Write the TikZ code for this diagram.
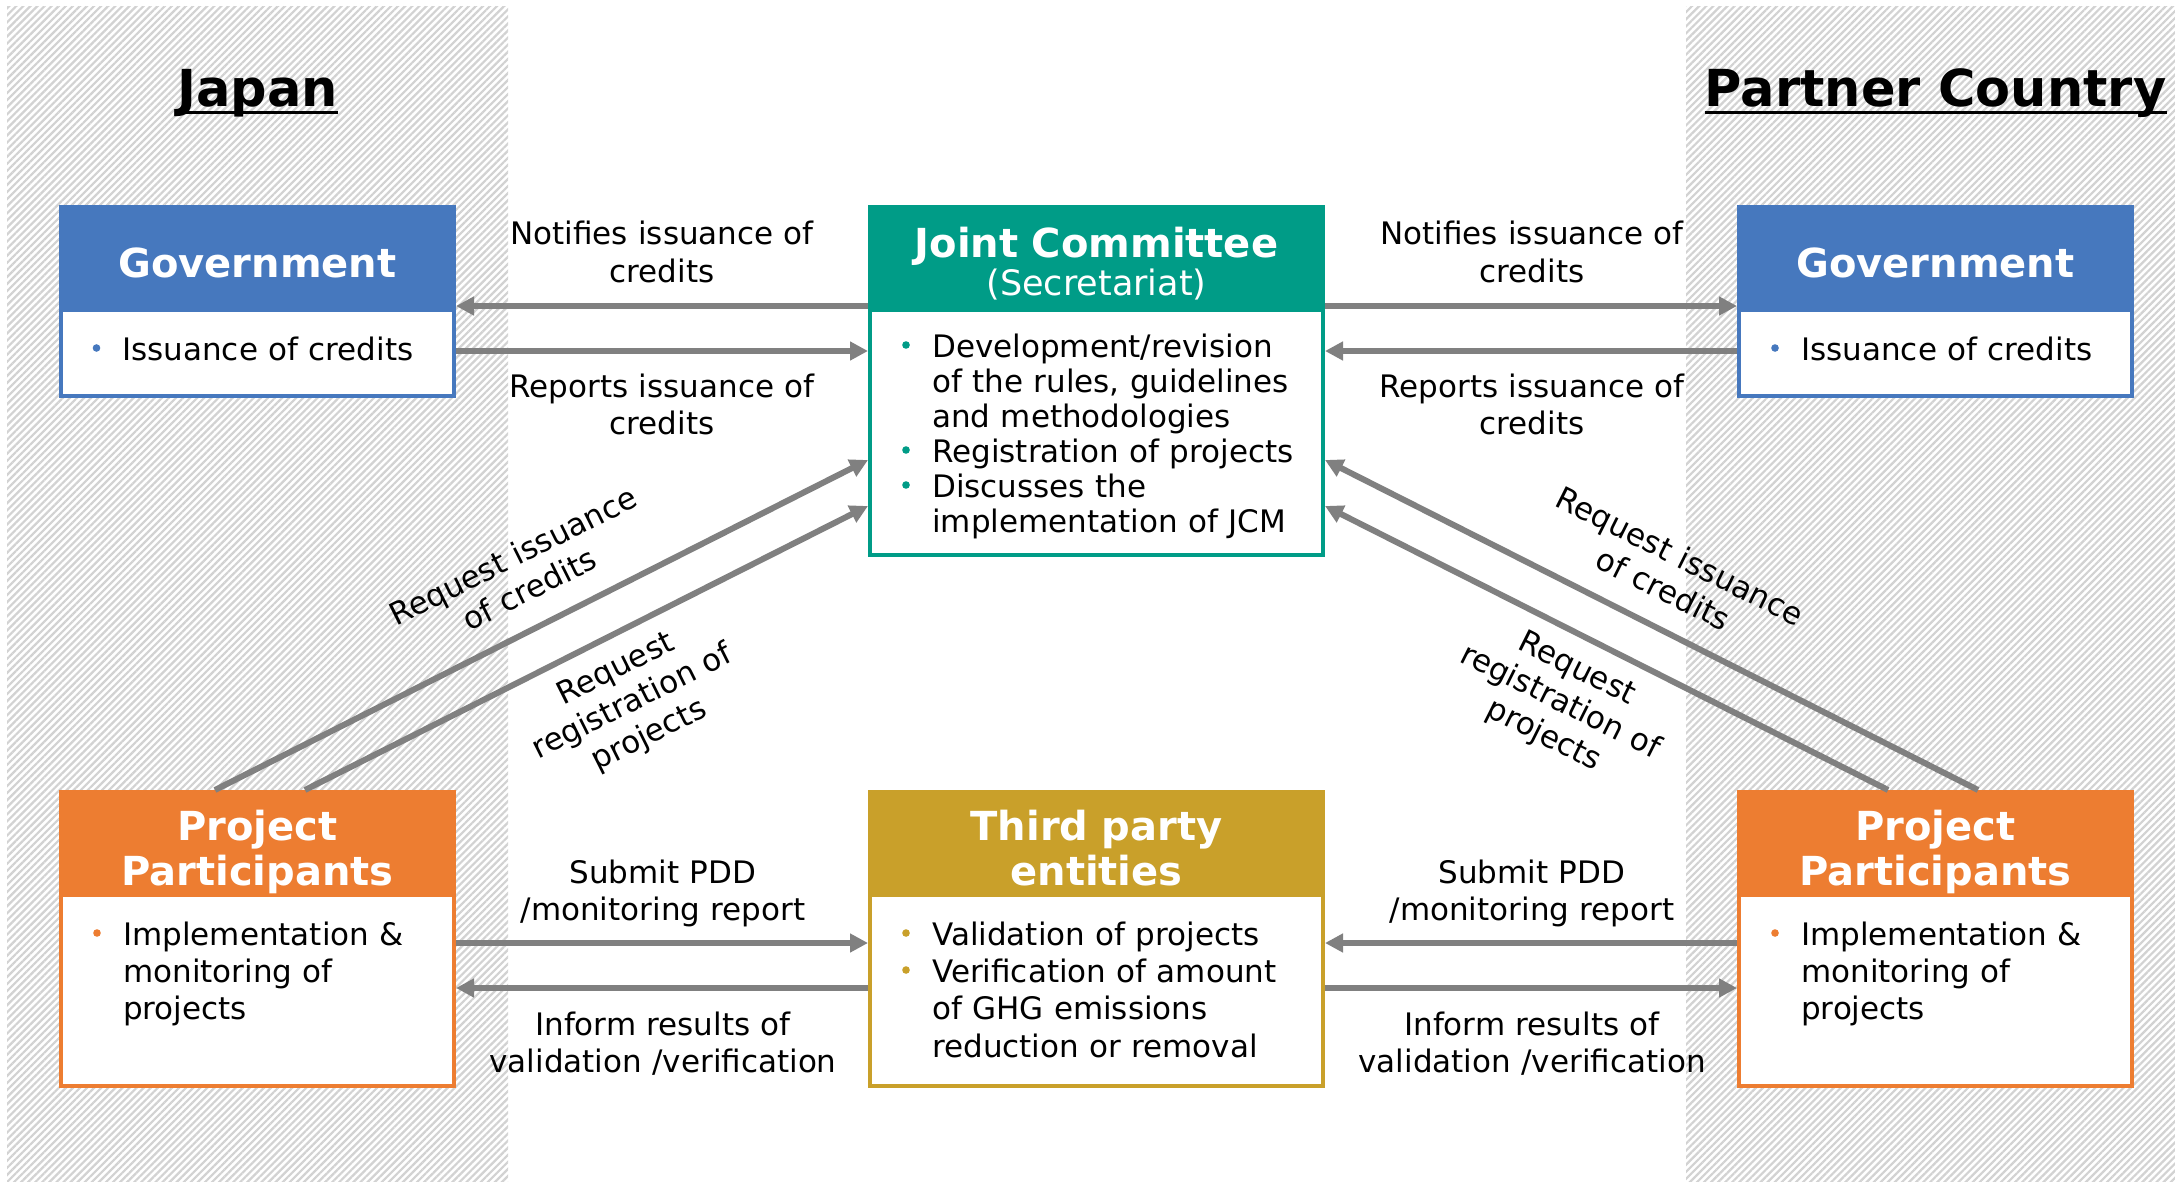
\documentclass[tikz,border=0pt]{standalone}
\usepackage{fontspec}
\setmainfont{DejaVu Sans}
\usetikzlibrary{arrows.meta,patterns.meta}
\definecolor{govblue}{RGB}{70,120,190}
\definecolor{jcteal}{RGB}{0,156,135}
\definecolor{pporange}{RGB}{237,125,49}
\definecolor{tpgold}{RGB}{201,160,42}
\definecolor{arrgray}{RGB}{128,128,128}
\definecolor{hatchgray}{RGB}{210,210,210}
\tikzset{
  hatchbg/.style={pattern={Lines[angle=45,distance=5pt,line width=2.2pt]}, pattern color=hatchgray},
  boxbody/.style={draw=#1, line width=4pt, fill=white, inner sep=0pt},
  boxhead/.style={fill=#1, draw=none, inner sep=0pt, outer sep=0pt, anchor=north, minimum height=107pt},
  headtxt/.style={text=white, font=\bfseries\fontsize{40}{45}\selectfont, inner sep=0pt, text width=380pt, align=center, anchor=base},
  headsub/.style={text=white, font=\fontsize{35}{40}\selectfont, inner sep=0pt, anchor=base},
  bodytxt/.style={font=\fontsize{31}{#1}\selectfont, inner sep=0pt, text width=320pt, align=left, anchor=base west},
  lbl/.style={font=\fontsize{31}{37}\selectfont, inner sep=0pt, text width=355pt, align=center, anchor=base},
  rlbl/.style={font=\fontsize{31}{37}\selectfont, inner sep=0pt, text width=285pt, align=center, anchor=base},
  titletxt/.style={font=\bfseries\fontsize{51}{56}\selectfont, inner sep=0pt, anchor=base},
  arr/.style={draw=arrgray, line width=6pt, -{Triangle[length=18pt,width=18pt]}},
  dot/.style={radius=3.8pt}
}
\begin{document}
\begin{tikzpicture}[x=1pt,y=-1pt]
\useasboundingbox (0,0) rectangle (2175,1182);
\fill[white] (0,0) rectangle (2175,1182);
% hatched country regions
\fill[hatchbg] (7,7) rectangle (508,1182);
\fill[hatchbg] (1686,7) rectangle (2175,1182);

% titles
\node[titletxt] (jp) at (257.5,107) {Japan};
\draw[line width=3pt] ([yshift=-6pt]jp.base west) -- ([yshift=-6pt]jp.base east);
\node[titletxt] (pc) at (1935.5,107) {Partner Country};
\draw[line width=3pt] ([yshift=-6pt]pc.base west) -- ([yshift=-6pt]pc.base east);

% boxes
\node[boxbody=govblue, minimum width=393pt, minimum height=189pt] (govL) at (257.5,301.5) {};
\node[boxhead=govblue, minimum width=397pt] (govLh) at (govL.north) {};
\node[boxbody=govblue, minimum width=393pt, minimum height=189pt] (govR) at (1935.5,301.5) {};
\node[boxhead=govblue, minimum width=397pt] (govRh) at (govR.north) {};
\node[boxbody=jcteal, minimum width=453pt, minimum height=348pt] (jc) at (1096.5,381) {};
\node[boxhead=jcteal, minimum width=457pt] (jch) at (jc.north) {};
\node[boxbody=pporange, minimum width=393pt, minimum height=294pt] (ppL) at (257.5,939) {};
\node[boxhead=pporange, minimum width=397pt] (ppLh) at (ppL.north) {};
\node[boxbody=pporange, minimum width=393pt, minimum height=294pt] (ppR) at (1935.5,939) {};
\node[boxhead=pporange, minimum width=397pt] (ppRh) at (ppR.north) {};
\node[boxbody=tpgold, minimum width=453pt, minimum height=294pt] (tp) at (1096.5,939) {};
\node[boxhead=tpgold, minimum width=457pt] (tph) at (tp.north) {};

% header texts
\node[headtxt] (govLt) at (257.5,277) {Government};
\node[headtxt] (govRt) at (1935.5,277) {Government};
\node[headtxt] (jct) at (1096.5,258) {Joint Committee};
\node[headsub] (jcs) at (1096.5,295) {(Secretariat)};
\node[headtxt] (ppLt) at (257.5,840) {Project\\Participants};
\node[headtxt] (ppRt) at (1935.5,840) {Project\\Participants};
\node[headtxt] (tpt) at (1096.5,840) {Third party\\entities};

% body texts
\fill[govblue] (96.5,348) circle[dot];
\node[bodytxt=36] (govLb) at (122,360) {Issuance of credits};
\fill[govblue] (1775,348) circle[dot];
\node[bodytxt=36] (govRb) at (1801,360) {Issuance of credits};

\fill[jcteal] (906,345) circle[dot];
\node[bodytxt=35.2, text width=385pt] (jcb1) at (932,357) {Development/revision\\of the rules, guidelines\\and methodologies};
\fill[jcteal] (906,450) circle[dot];
\node[bodytxt=35.2, text width=385pt] (jcb2) at (932,462) {Registration of projects};
\fill[jcteal] (906,485) circle[dot];
\node[bodytxt=35.2, text width=385pt] (jcb3) at (932,497) {Discusses the\\implementation of JCM};

\fill[tpgold] (906,933) circle[dot];
\node[bodytxt=37.7, text width=385pt] (tpb1) at (932,945) {Validation of projects};
\fill[tpgold] (906,970) circle[dot];
\node[bodytxt=37.7, text width=385pt] (tpb2) at (932,982) {Verification of amount\\of GHG emissions\\reduction or removal};

\fill[pporange] (97,933) circle[dot];
\node[bodytxt=37] (ppLb) at (123,945) {Implementation \&\\monitoring of\\projects};
\fill[pporange] (1775,933) circle[dot];
\node[bodytxt=37] (ppRb) at (1801,945) {Implementation \&\\monitoring of\\projects};

% connectors
\draw[arr] (jc.west |- 0,306) -- (govL.east |- 0,306);
\draw[arr] (govL.east |- 0,351) -- (jc.west |- 0,351);
\draw[arr] (jc.east |- 0,306) -- (govR.west |- 0,306);
\draw[arr] (govR.west |- 0,351) -- (jc.east |- 0,351);
\draw[arr] (ppL.east |- 0,943) -- (tp.west |- 0,943);
\draw[arr] (tp.west |- 0,988) -- (ppL.east |- 0,988);
\draw[arr] (ppR.west |- 0,943) -- (tp.east |- 0,943);
\draw[arr] (tp.east |- 0,988) -- (ppR.west |- 0,988);
\draw[arr] (ppL.north -| 215,0) -- (jc.west |- 0,460);
\draw[arr] (ppL.north -| 305,0) -- (jc.west |- 0,506);
\draw[arr] (ppR.north -| 1978,0) -- (jc.east |- 0,460);
\draw[arr] (ppR.north -| 1888,0) -- (jc.east |- 0,506);

% connector labels
\node[lbl] (l1) at (662,245) {Notifies issuance of\\credits};
\node[lbl] (l2) at (662,397) {Reports issuance of\\credits};
\node[lbl] (l3) at (1532,245) {Notifies issuance of\\credits};
\node[lbl] (l4) at (1532,397) {Reports issuance of\\credits};
\node[lbl] (l5) at (663,883) {Submit PDD\\/monitoring report};
\node[lbl] (l6) at (663,1035) {Inform results of\\validation /verification};
\node[lbl] (l7) at (1532,883) {Submit PDD\\/monitoring report};
\node[lbl] (l8) at (1532,1035) {Inform results of\\validation /verification};
\node[rlbl, rotate=26.57] (l9) at (518,566) {Request issuance\\of credits};
\node[rlbl, rotate=26.57] (l10) at (620,677) {Request\\registration of\\projects};
\node[rlbl, rotate=-26.57] (l11) at (1675,566) {Request issuance\\of credits};
\node[rlbl, rotate=-26.57] (l12) at (1573,677) {Request\\registration of\\projects};
\end{tikzpicture}
\end{document}
